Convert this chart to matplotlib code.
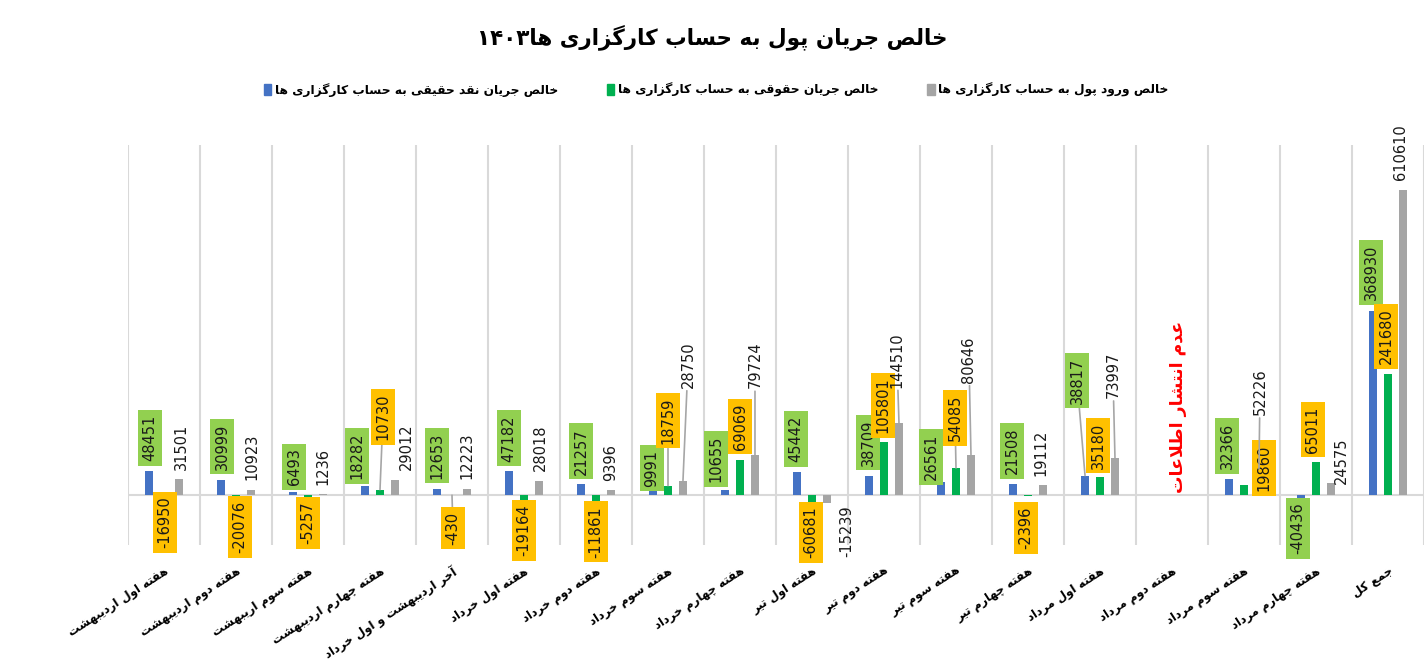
import re
import numpy as np
import matplotlib
matplotlib.use("Agg")
import matplotlib.pyplot as plt
import matplotlib.transforms as mtransforms
from matplotlib.patches import Patch

plt.rcParams['font.family'] = ['DejaVu Sans']

# ---- data ----
weeks = ["هفته اول اردیبهشت", "هفته دوم اردیبهشت", "هفته سوم اریبهشت",
         "هفته چهارم اردیبهشت", "آخر اردیبهشت و اول خرداد", "هفته اول خرداد",
         "هفته دوم خرداد", "هفته سوم خرداد", "هفته چهارم خرداد", "هفته اول تیر",
         "هفته دوم تیر", "هفته سوم تیر", "هفته چهارم تیر", "هفته اول مرداد",
         "هفته دوم مرداد", "هفته سوم مرداد", "هفته چهارم مرداد", "جمع کل"]
nan = np.nan
real_cash = [48451, 30999, 6493, 18282, 12653, 47182, 21257, 9991, 10655,
             45442, 38709, 26561, 21508, 38817, nan, 32366, -40436, 368930]
legal = [-16950, -20076, -5257, 10730, -430, -19164, -11861, 18759, 69069,
         -60681, 105801, 54085, -2396, 35180, nan, 19860, 65011, 241680]
net_inflow = [31501, 10923, 1236, 29012, 12223, 28018, 9396, 28750, 79724,
              -15239, 144510, 80646, 19112, 73997, nan, 52226, 24575, 610610]

title = "خالص جریان پول به حساب کارگزاری ها۱۴۰۳"
series_names = ["خالص جریان نقد حقیقی به حساب کارگزاری ها",
                "خالص جریان حقوقی به حساب کارگزاری ها",
                "خالص ورود پول به حساب کارگزاری ها"]
no_data_note = "عدم انتشار اطلاعات"

# label placement (pixel offsets from the bar end), leader line flags
blue_off = [(1, 33), (1, 33), (1, 25), (-8, 30), (0, 33), (0, 33), (0, 33), (-1, 22),
            (-9, 31), (-1, 33), (-1, 33), (-10, 25), (-1, 33), (-8, 95), (0, 0),
            (-2, 33), (-3, -13), (-2, 38)]
green_off = [(1, -19), (4, -22), (0, -25), (3, 73), (1, -33), (0, -26), (0, -31), (0, 65),
             (0, 34), (-1, -7), (-1, 37), (-1, 50), (-2, -32), (-2, 32), (0, 0),
             (20, 17), (-3, 33), (-2, 38)]
gray_off = [(2, 32), (1, 33), (0, 28), (11, 34), (0, 33), (1, 33), (0, 28), (5, 116),
            (0, 90), (20, -29), (-2, 63), (-2, 95), (-2, 33), (-2, 83), (0, 0),
            (1, 77), (10, 22), (-2, 38)]
blue_lead = {13}
green_lead = {3, 4, 7, 11}
gray_lead = {7, 8, 10, 11, 13, 15}

# ---- simple Persian shaping (no bidi library available) ----
F = {
    'ا': ('\uFE8D', '\uFE8E', None, None), 'آ': ('\uFE81', '\uFE82', None, None),
    'ب': ('\uFE8F', '\uFE90', '\uFE91', '\uFE92'), 'پ': ('\uFB56', '\uFB57', '\uFB58', '\uFB59'),
    'ت': ('\uFE95', '\uFE96', '\uFE97', '\uFE98'), 'ث': ('\uFE99', '\uFE9A', '\uFE9B', '\uFE9C'),
    'ج': ('\uFE9D', '\uFE9E', '\uFE9F', '\uFEA0'), 'چ': ('\uFB7A', '\uFB7B', '\uFB7C', '\uFB7D'),
    'ح': ('\uFEA1', '\uFEA2', '\uFEA3', '\uFEA4'), 'خ': ('\uFEA5', '\uFEA6', '\uFEA7', '\uFEA8'),
    'د': ('\uFEA9', '\uFEAA', None, None), 'ذ': ('\uFEAB', '\uFEAC', None, None),
    'ر': ('\uFEAD', '\uFEAE', None, None), 'ز': ('\uFEAF', '\uFEB0', None, None),
    'ژ': ('\uFB8A', '\uFB8B', None, None),
    'س': ('\uFEB1', '\uFEB2', '\uFEB3', '\uFEB4'), 'ش': ('\uFEB5', '\uFEB6', '\uFEB7', '\uFEB8'),
    'ص': ('\uFEB9', '\uFEBA', '\uFEBB', '\uFEBC'), 'ض': ('\uFEBD', '\uFEBE', '\uFEBF', '\uFEC0'),
    'ط': ('\uFEC1', '\uFEC2', '\uFEC3', '\uFEC4'), 'ظ': ('\uFEC5', '\uFEC6', '\uFEC7', '\uFEC8'),
    'ع': ('\uFEC9', '\uFECA', '\uFECB', '\uFECC'), 'غ': ('\uFECD', '\uFECE', '\uFECF', '\uFED0'),
    'ف': ('\uFED1', '\uFED2', '\uFED3', '\uFED4'), 'ق': ('\uFED5', '\uFED6', '\uFED7', '\uFED8'),
    'ک': ('\uFB8E', '\uFB8F', '\uFB90', '\uFB91'), 'گ': ('\uFB92', '\uFB93', '\uFB94', '\uFB95'),
    'ل': ('\uFEDD', '\uFEDE', '\uFEDF', '\uFEE0'), 'م': ('\uFEE1', '\uFEE2', '\uFEE3', '\uFEE4'),
    'ن': ('\uFEE5', '\uFEE6', '\uFEE7', '\uFEE8'), 'و': ('\uFEED', '\uFEEE', None, None),
    'ه': ('\uFEE9', '\uFEEA', '\uFEEB', '\uFEEC'), 'ی': ('\uFBFC', '\uFBFD', '\uFBFE', '\uFBFF'),
}
LAMALEF = {'ا': ('\uFEFB', '\uFEFC'), 'آ': ('\uFEF5', '\uFEF6')}


def fa(s):
    out = []
    i = 0
    while i < len(s):
        c = s[i]
        if c not in F:
            out.append(c)
            i += 1
            continue
        prev = s[i - 1] if i > 0 else None
        jp = prev in F and F[prev][2] is not None
        if c == 'ل' and i + 1 < len(s) and s[i + 1] in LAMALEF:
            iso, fin = LAMALEF[s[i + 1]]
            out.append(fin if jp else iso)
            i += 2
            continue
        nxt = s[i + 1] if i + 1 < len(s) else None
        jn = F[c][2] is not None and nxt in F
        iso, fin, ini, med = F[c]
        out.append(med if (jp and jn) else fin if jp else ini if jn else iso)
        i += 1
    vis = ''.join(out)[::-1]
    return re.sub(r'[0-9\u06F0-\u06F9]+', lambda m: m.group(0)[::-1], vis)


# ---- figure ----
fig = plt.figure(figsize=(14.24, 6.72), dpi=100)
ax = fig.add_axes([128 / 1424, 1 - 545 / 672, 1296 / 1424, 400 / 672])

x = np.arange(len(weeks))
w = 0.11
sp = 0.208
colors = ['#4472C4', '#00B050', '#A5A5A5']
series = [real_cash, legal, net_inflow]
box_fc = ['#92D050', '#FFC000', None]
offsets = [blue_off, green_off, gray_off]
leads = [blue_lead, green_lead, gray_lead]

for k, vals in enumerate(series):
    xs = x + (k - 1) * sp
    ax.bar(xs, vals, width=w, color=colors[k], zorder=2)
    for i, v in enumerate(vals):
        if np.isnan(v):
            continue
        dx, dy = offsets[k][i]
        kw = {}
        if box_fc[k]:
            kw['bbox'] = dict(boxstyle='square,pad=0.32', fc=box_fc[k], ec='none')
        if i in leads[k]:
            kw['arrowprops'] = dict(arrowstyle='-', color='#A6A6A6', lw=1.2,
                                    shrinkA=0, shrinkB=0)
        ax.annotate(f"{int(v)}", xy=(xs[i], v), xytext=(dx, dy),
                    textcoords='offset pixels', rotation=90, ha='center',
                    va='center', fontsize=10.5, color='#1a1a1a', zorder=4, **kw)

ax.set_xlim(-0.5, len(weeks) - 0.5)
ax.set_ylim(-100000, 700000)
ax.set_xticks(x)
ax.set_xticklabels([fa(s) for s in weeks], rotation=33, ha='right', va='top',
                   rotation_mode='anchor', fontsize=8.5, fontweight='bold')
ax.tick_params(axis='x', length=0, pad=14)
ax.set_yticks([])
ax.set_xticks(np.arange(-0.5, len(weeks)), minor=True)
ax.tick_params(axis='x', which='minor', length=0)
ax.grid(which='minor', axis='x', color='#D9D9D9', lw=1.5, zorder=0)
ax.axhline(0, color='#D9D9D9', lw=1.5, zorder=1)
for s in ax.spines.values():
    s.set_visible(False)

trans = mtransforms.blended_transform_factory(ax.transData, ax.transAxes)
ax.text(14.08, 0.345, fa(no_data_note), transform=trans, rotation=90, ha='center',
        va='center', color='#FF0000', fontsize=12.5, fontweight='bold')

fig.text(0.5, 1 - 37 / 672, fa(title), ha='center', va='center', fontsize=15.5,
         fontweight='bold')

handles = [Patch(color=c) for c in colors]
fig.legend(handles, [fa(n) for n in series_names], ncol=3, loc='center',
           bbox_to_anchor=(0.503, 1 - 90 / 672), frameon=False,
           handlelength=0.6, handleheight=1.0, handletextpad=0.3,
           columnspacing=4.0, prop={'size': 8.8, 'weight': 'bold'})

fig.savefig("out.png", dpi=100)
